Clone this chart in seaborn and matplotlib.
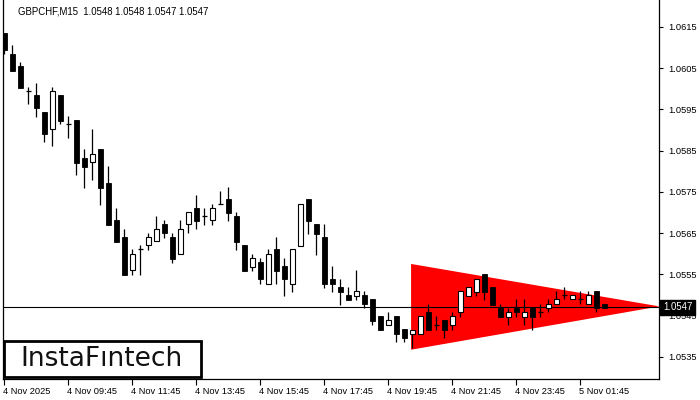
import matplotlib
matplotlib.use("Agg")
import matplotlib.pyplot as plt
import matplotlib.transforms as mtransforms
from matplotlib.patches import Rectangle
import seaborn as sns
import pandas as pd
import numpy as np

# ---- data (GBPCHF M15 candles) ----
opens = [1.06135, 1.06084, 1.06055, 1.05994, 1.05985, 1.05943, 1.05902, 1.05985, 1.05914, 1.05924,
         1.05832, 1.05822, 1.05854, 1.05771, 1.05682, 1.05640, 1.05560, 1.05611, 1.05621, 1.05631,
         1.05672, 1.05640, 1.05599, 1.05672, 1.05711, 1.05691, 1.05682, 1.05720, 1.05733, 1.05691,
         1.05621, 1.05568, 1.05580, 1.05527, 1.05611, 1.05570, 1.05527, 1.05619, 1.05733, 1.05672,
         1.05640, 1.05539, 1.05519, 1.05500, 1.05497, 1.05500, 1.05490, 1.05449, 1.05427, 1.05449,
         1.05417, 1.05405, 1.05405, 1.05459, 1.05427, 1.05439, 1.05427, 1.05459, 1.05497, 1.05507,
         1.05551, 1.05519, 1.05468, 1.05447, 1.05468, 1.05447, 1.05468, 1.05459, 1.05468, 1.05478,
         1.05500, 1.05490, 1.05490, 1.05478, 1.05510, 1.05478]
highs = [1.06135, 1.06106, 1.06065, 1.06004, 1.06014, 1.05943, 1.06004, 1.05985, 1.05934, 1.05924,
         1.05854, 1.05902, 1.05854, 1.05813, 1.05711, 1.05660, 1.05611, 1.05621, 1.05650, 1.05691,
         1.05682, 1.05650, 1.05682, 1.05701, 1.05742, 1.05711, 1.05720, 1.05752, 1.05762, 1.05701,
         1.05621, 1.05599, 1.05590, 1.05611, 1.05640, 1.05590, 1.05611, 1.05720, 1.05733, 1.05672,
         1.05672, 1.05570, 1.05539, 1.05519, 1.05560, 1.05510, 1.05490, 1.05449, 1.05459, 1.05449,
         1.05417, 1.05415, 1.05449, 1.05478, 1.05449, 1.05439, 1.05459, 1.05510, 1.05519, 1.05539,
         1.05551, 1.05519, 1.05478, 1.05468, 1.05490, 1.05490, 1.05468, 1.05478, 1.05490, 1.05510,
         1.05519, 1.05500, 1.05510, 1.05510, 1.05510, 1.05478]
lows = [1.06084, 1.06043, 1.06002, 1.05963, 1.05931, 1.05871, 1.05861, 1.05914, 1.05880, 1.05791,
        1.05759, 1.05779, 1.05718, 1.05670, 1.05628, 1.05548, 1.05548, 1.05548, 1.05609, 1.05631,
        1.05638, 1.05577, 1.05599, 1.05650, 1.05660, 1.05670, 1.05670, 1.05720, 1.05679, 1.05609,
        1.05558, 1.05558, 1.05527, 1.05527, 1.05527, 1.05497, 1.05507, 1.05619, 1.05648, 1.05597,
        1.05517, 1.05507, 1.05476, 1.05488, 1.05488, 1.05468, 1.05427, 1.05415, 1.05427, 1.05386,
        1.05386, 1.05371, 1.05405, 1.05415, 1.05415, 1.05396, 1.05415, 1.05447, 1.05497, 1.05497,
        1.05488, 1.05476, 1.05447, 1.05427, 1.05447, 1.05427, 1.05415, 1.05447, 1.05459, 1.05478,
        1.05490, 1.05490, 1.05478, 1.05478, 1.05459, 1.05468]
closes = [1.06094, 1.06043, 1.06002, 1.05994, 1.05953, 1.05890, 1.05994, 1.05922, 1.05914, 1.05820,
          1.05810, 1.05842, 1.05759, 1.05670, 1.05628, 1.05548, 1.05599, 1.05611, 1.05640, 1.05660,
          1.05650, 1.05587, 1.05660, 1.05701, 1.05679, 1.05691, 1.05711, 1.05720, 1.05699, 1.05628,
          1.05558, 1.05590, 1.05539, 1.05599, 1.05558, 1.05539, 1.05611, 1.05720, 1.05679, 1.05648,
          1.05527, 1.05527, 1.05507, 1.05488, 1.05510, 1.05478, 1.05437, 1.05415, 1.05439, 1.05405,
          1.05396, 1.05415, 1.05449, 1.05415, 1.05427, 1.05415, 1.05449, 1.05510, 1.05519, 1.05539,
          1.05507, 1.05476, 1.05447, 1.05459, 1.05459, 1.05459, 1.05447, 1.05459, 1.05478, 1.05490,
          1.05500, 1.05500, 1.05490, 1.05500, 1.05468, 1.05468]

x_tick_pos = [0, 8, 16, 24, 32, 40, 48, 56, 64, 72]
x_tick_labels = ["4 Nov 2025", "4 Nov 09:45", "4 Nov 11:45", "4 Nov 13:45", "4 Nov 15:45",
                 "4 Nov 17:45", "4 Nov 19:45", "4 Nov 21:45", "4 Nov 23:45", "5 Nov 01:45"]
y_ticks = [1.0535, 1.0545, 1.0555, 1.0565, 1.0575, 1.0585, 1.0595, 1.0605, 1.0615]
current_price = 1.0547
title_text = "GBPCHF,M15  1.0548 1.0548 1.0547 1.0547"
logo_text = "InstaF\u0131ntech"

# symmetrical triangle pattern (bearish)
pattern_x = [50.85, 81.9, 50.85]
pattern_y = [1.05575, 1.05472, 1.05367]

# ---- styling ----
sns.set_theme(style="white")
plt.rcParams['font.family'] = ['Liberation Sans', 'DejaVu Sans']

W, H = 700, 400
fig = plt.figure(figsize=(7, 4), dpi=100)
fig.patch.set_facecolor('white')
ax = fig.add_axes([2.7 / W, 1 - 379 / H, (659 - 2.7) / W, 379 / H])
ax.set_facecolor('white')

df = pd.DataFrame({"open": opens, "high": highs, "low": lows, "close": closes})
df["idx"] = np.arange(len(df))

ax.fill(pattern_x, pattern_y, color='#ff0000', lw=0, zorder=1)
ax.axhline(current_price, color='black', lw=0.8, zorder=2)

ax.vlines(df["idx"], df["low"], df["high"], color='black', lw=0.9, zorder=3)
bear = df[df["close"] < df["open"]]
bull = df[df["close"] > df["open"]]
doji = df[df["close"] == df["open"]]
bw = 0.6
ax.bar(bear["idx"], bear["open"] - bear["close"], bottom=bear["close"], width=bw,
       color='black', edgecolor='black', lw=0.6, zorder=4)
ax.bar(bull["idx"], bull["close"] - bull["open"], bottom=bull["open"], width=bw,
       color='white', edgecolor='black', lw=0.8, zorder=4)
ax.hlines(doji["close"], doji["idx"] - bw / 2, doji["idx"] + bw / 2, color='black', lw=0.9, zorder=4)

ax.set_xlim(-0.2, 81.84)
ax.set_ylim(1.05296, 1.06215)

ax.yaxis.tick_right()
ax.set_yticks(y_ticks)
ax.set_yticklabels([f"{v:.4f}" for v in y_ticks])
ax.set_xticks(x_tick_pos)
ax.set_xticklabels(x_tick_labels, ha='left')
ax.tick_params(axis='y', which='both', right=True, left=False, length=3, width=0.8,
               pad=4, labelsize=6.7, colors='black', direction='out')
ax.tick_params(axis='x', which='both', bottom=True, length=4, width=0.8,
               pad=2, labelsize=6.7, colors='black', direction='out')
offset = mtransforms.ScaledTranslation(-1 / 100, 0, fig.dpi_scale_trans)
for lbl in ax.get_xticklabels():
    lbl.set_transform(lbl.get_transform() + offset)

for side in ['left', 'right', 'bottom']:
    ax.spines[side].set_visible(True)
    ax.spines[side].set_color('black')
    ax.spines[side].set_linewidth(0.9)
ax.spines['top'].set_visible(False)
ax.grid(False)

# current price tag on the axis
trans = mtransforms.blended_transform_factory(ax.transAxes, ax.transData)
ax.text(1.006, current_price, "1.0547", transform=trans, ha='left', va='center',
        fontsize=6.9, color='white', clip_on=False, zorder=10,
        bbox=dict(boxstyle='square,pad=0.28', fc='black', ec='black'))

# title
fig.text(18 / W, 1 - 11 / H, title_text, ha='left', va='center', fontsize=6.9, color='black')

# logo
fig.patches.append(Rectangle((3.8 / W, 1 - 377.2 / H), 197 / W, 36.4 / H, transform=fig.transFigure,
                             fc='white', ec='black', lw=2.0, zorder=20))
fig.text(101.5 / W, 1 - 359.5 / H, logo_text, ha='center', va='center', fontsize=19,
         family='DejaVu Sans', color='#111111', zorder=21)

fig.savefig("out.png", dpi=100)
